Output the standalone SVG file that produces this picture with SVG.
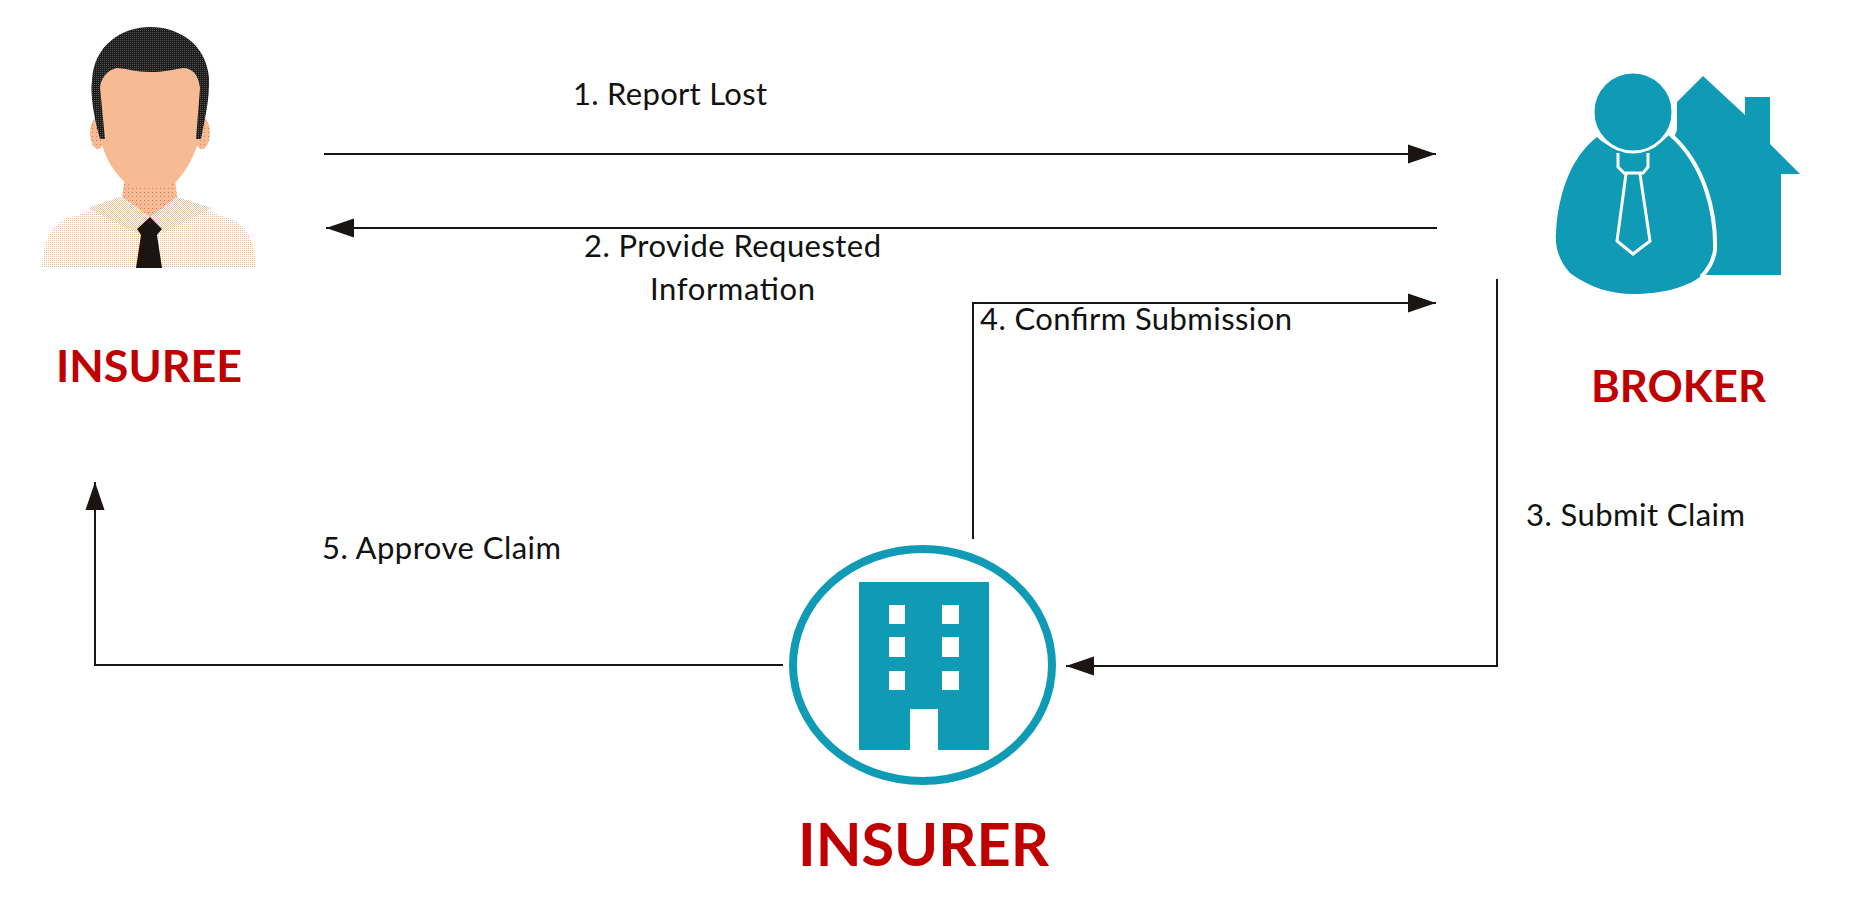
<svg xmlns="http://www.w3.org/2000/svg" width="1859" height="903" viewBox="0 0 1859 903">
<defs>
<marker id="arrow" markerUnits="userSpaceOnUse" markerWidth="30" markerHeight="20" refX="28" refY="10" orient="auto"><path d="M0 0.5L28 10L0 19.5Z" fill="#1a1512"/></marker>
<pattern id="shirt" width="2" height="2" patternUnits="userSpaceOnUse"><rect width="2" height="2" fill="#fff"/><rect width="1" height="1" fill="#f7b183"/></pattern>
<pattern id="collar" width="2" height="2" patternUnits="userSpaceOnUse"><rect width="2" height="2" fill="#fff"/><rect width="1" height="1" fill="#f6bb93"/><rect x="1" y="1" width="1" height="1" fill="#b8ccd0"/></pattern>
<pattern id="neck" width="4" height="4" patternUnits="userSpaceOnUse"><rect width="4" height="4" fill="#f6bb93"/><rect width="1" height="1" fill="#e0705f"/></pattern>
<pattern id="hair" width="2" height="2" patternUnits="userSpaceOnUse"><rect width="2" height="2" fill="#1e1b1b"/><rect width="1" height="1" fill="#555"/></pattern>
</defs>
<style>
.lbl{font-family:"Lato","Liberation Sans",sans-serif;font-size:31px;fill:#111}
.ttl{font-family:"Lato","Liberation Sans",sans-serif;font-weight:700;fill:#c00000}
.con{fill:none;stroke:#1a1512;stroke-width:2}
.teal{fill:#0f9bb5}
</style>
<rect width="1859" height="903" fill="#fff"/>
<g id="connectors">
<path class="con" marker-end="url(#arrow)" d="M324 154H1436"/>
<path class="con" marker-end="url(#arrow)" d="M1437 228H326"/>
<path class="con" marker-end="url(#arrow)" d="M973 539V303H1436"/>
<path class="con" marker-end="url(#arrow)" d="M1497 279V666H1066"/>
<path class="con" marker-end="url(#arrow)" d="M783 665H95V482"/>
</g>
<g id="insuree">
<path fill="url(#shirt)" d="M42 268C42 245 50 226 67 218C85 214 105 205 120 197H177C192 205 215 214 233 220C250 228 256 248 256 268Z"/>
<path fill="url(#collar)" d="M88 208L120 197L150 217L137 233ZM212 208L177 197L150 217L163 233Z"/>
<ellipse cx="98" cy="133" rx="8" ry="16" fill="url(#neck)"/>
<ellipse cx="202" cy="133" rx="8" ry="16" fill="url(#neck)"/>
<path fill="url(#neck)" d="M125 178H175L177 197L150 217L122 197Z"/>
<path fill="#f6bb93" d="M100 85C104 72 112 66 122 68C135 72 165 72 180 66C190 66 198 74 200 88L199 140C193 160 185 172 175 183Q150 194 125 183C115 172 105 160 101 140Z"/>
<path fill="url(#hair)" d="M100 139C94 118 90 95 92 80C94 45 122 27 150 27C180 27 206 45 209 77C210 98 205 118 201 139H196L200 88C198 74 192 68 183 68C170 70 165 72 150 72C135 72 130 69 117 68C108 70 102 76 100 87L105 139Z"/>
<path fill="#1a1512" d="M150 217L137 229L141 235L136 268H162L157 235L162 229Z"/>
</g>
<g id="broker">
<path class="teal" d="M1677 102L1703 76L1745 115V97H1770V144L1800 174H1781V275H1702L1650 200L1677 130Z"/>
<path class="teal" d="M1597 137C1570 158 1558 195 1556 233Q1554 255 1570 273C1590 288 1612 294 1633 294C1660 294 1685 288 1700 277Q1713 265 1714 250C1715 215 1706 165 1670 134C1650 156 1616 156 1597 137Z"/>
<path fill="none" stroke="#fff" stroke-width="4" d="M1670 134C1706 165 1716 215 1715 250Q1713 265 1701 277"/>
<circle class="teal" cx="1633" cy="112" r="40" stroke="#fff" stroke-width="3"/>
<path fill="none" stroke="#fff" stroke-width="3" d="M1618 153V167L1624 173H1643L1648 167V153M1626 174L1617 241L1633 254L1650 241L1640 174"/>
</g>
<g id="insurer">
<ellipse cx="922.5" cy="665" rx="129.5" ry="116" fill="#fff" stroke="#0f9bb5" stroke-width="8"/>
<path class="teal" fill-rule="evenodd" d="M859 582H989V750H938V709H910V750H859ZM889 605V624H905V605ZM942 605V624H959V605ZM889 637V657H905V637ZM942 637V657H959V637ZM889 671V690H905V671ZM942 671V690H959V671Z"/>
</g>
<text class="ttl" x="56" y="382" font-size="44" textLength="186" lengthAdjust="spacingAndGlyphs">INSUREE</text>
<text class="ttl" x="1591" y="402" font-size="44" textLength="175" lengthAdjust="spacingAndGlyphs">BROKER</text>
<text class="ttl" x="798" y="866" font-size="59" textLength="251" lengthAdjust="spacingAndGlyphs">INSURER</text>
<text class="lbl" x="573" y="105" textLength="194">1. Report Lost</text>
<text class="lbl" x="584" y="257" textLength="297">2. Provide Requested</text>
<text class="lbl" x="650" y="300" textLength="165">Information</text>
<text class="lbl" x="980" y="330" textLength="312">4. Confirm Submission</text>
<text class="lbl" x="1526" y="526" textLength="219">3. Submit Claim</text>
<text class="lbl" x="322" y="559" textLength="239">5. Approve Claim</text>
</svg>
